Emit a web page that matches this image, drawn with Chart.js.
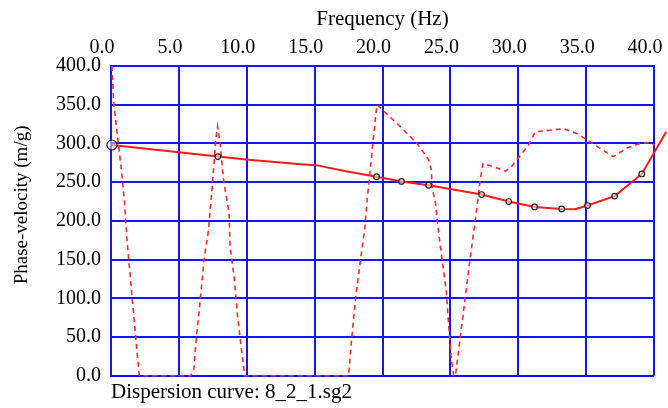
<!DOCTYPE html>
<html>
<head>
<meta charset="utf-8">
<script src="https://cdn.jsdelivr.net/npm/chart.js@4/dist/chart.umd.min.js"></script>
<style>
html,body{margin:0;padding:0;background:#fff;}
#wrap{width:668px;height:408px;position:relative;}
</style>
</head>
<body>
<div id="wrap"><canvas id="c" width="668" height="408"></canvas></div>
<script>
// Dashed curve (all picks)
const dashedFreq = [0.07,0.2,0.74,0.98,1.18,1.6,1.84,2.08,5.87,6.1,6.27,6.54,6.86,7.18,7.48,7.72,7.85,8.04,8.29,8.7,8.77,9.07,9.32,9.56,9.85,17.5,17.7,18.0,18.38,18.68,18.87,19.12,19.32,19.49,19.6,21.3,22.55,23.4,23.6,23.65,23.9,24.14,24.39,24.7,24.88,25.05,25.24,25.37,25.74,26.1,26.35,26.7,26.96,27.2,27.4,28.2,29.04,29.5,30.0,30.76,31.25,32.35,33.33,34.3,35.3,36.0,37.0,38.0,38.97,39.46,40.07,40.56,40.96];
const dashedVel  = [400,352,270,227,175,92,46,0,0,8,46,92,150,188,249,305,322,300,253,210,167,128,77,42,0,0,42,98,150,188,227,270,305,335,350,322,300,279,266,244,223,184,150,109,64,25,0,0,51,102,137,184,218,253,274,270,264,270,281,298,315,317,319,313,302,294,283,294,300,301,298,305,315];
// Solid dispersion curve
const curveFreq = [0.07,7.87,10.15,13.97,15.1,17.3,19.56,21.4,23.4,27.3,29.3,31.2,33.2,34.2,35.1,37.1,39.1,40.9];
const curveVel  = [298,283,279,273,272,264,257,251,246,234,225,218,215.5,215,219.8,232,260.6,315];
// Marked points
const markFreq = [0.07,7.87,19.56,21.4,23.4,27.3,29.3,31.2,33.2,35.1,37.1,39.1,40.9];
const markVel  = [298,283,257,251,246,234,225,218,215.5,219.8,232,260.6,315];
// Axis ticks
const xTicks = [0,5,10,15,20,25,30,35,40];
const yTicks = [0,50,100,150,200,250,300,350,400];
const yTitle = 'Phase-velocity (m/g)';

const toXY = (xs, ys) => xs.map((x, i) => ({x: x, y: ys[i]}));
const serif = "'Liberation Serif','Times New Roman',serif";
const blue = '#1414ff';

const yTitlePlugin = {
  id: 'yTitle',
  afterDraw(chart) {
    const ctx = chart.ctx;
    const a = chart.chartArea;
    ctx.save();
    ctx.font = '19px ' + serif;
    ctx.fillStyle = '#000';
    ctx.textAlign = 'center';
    ctx.textBaseline = 'middle';
    ctx.translate(22, (a.top + a.bottom) / 2 - 16);
    ctx.rotate(-Math.PI / 2);
    ctx.fillText(yTitle, 0, 0);
    ctx.restore();
  }
};

new Chart(document.getElementById('c'), {
  type: 'scatter',
  data: {
    datasets: [
      {
        data: toXY(markFreq, markVel),
        showLine: false,
        pointRadius: c => c.dataIndex === 0 ? 5 : 2.8,
        pointBorderColor: '#222',
        pointBackgroundColor: 'rgba(255,255,255,0.5)',
        pointBorderWidth: 1.2,
        clip: false
      },
      {
        data: toXY(curveFreq, curveVel),
        showLine: true,
        borderColor: '#ff1a1a',
        borderWidth: 2,
        pointRadius: 0,
        tension: 0,
        clip: false
      },
      {
        data: toXY(dashedFreq, dashedVel),
        showLine: true,
        borderColor: '#ff2a2a',
        borderWidth: 1.6,
        borderDash: [5, 4],
        pointRadius: 0,
        tension: 0,
        clip: false
      }
    ]
  },
  plugins: [yTitlePlugin],
  options: {
    responsive: false,
    animation: false,
    events: [],
    layout: { padding: { left: 0, right: 14, top: 0, bottom: 0 } },
    plugins: {
      legend: { display: false },
      tooltip: { enabled: false },
      title: {
        display: true,
        position: 'bottom',
        align: 'start',
        fullSize: false,
        text: 'Dispersion curve: 8_2_1.sg2',
        color: '#000',
        font: { family: serif, size: 21, weight: 'normal' },
        padding: { top: 4, bottom: 3 }
      }
    },
    scales: {
      x: {
        type: 'linear',
        position: 'top',
        min: 0, max: 40,
        afterBuildTicks: s => { s.ticks = xTicks.map(v => ({value: v})); },
        afterFit: s => { s.height = 66; s.paddingLeft = 0; s.paddingRight = 0; },
        ticks: {
          padding: 6,
          labelOffset: -9,
          color: '#000',
          font: { family: serif, size: 20 },
          maxRotation: 0,
          callback: v => Number(v).toFixed(1)
        },
        grid: { color: blue, lineWidth: 2, drawTicks: false },
        border: { color: blue, width: 2 },
        title: {
          display: true,
          text: 'Frequency (Hz)',
          color: '#000',
          font: { family: serif, size: 21 },
          padding: { top: 7, bottom: 0 }
        }
      },
      y: {
        type: 'linear',
        position: 'left',
        min: 0, max: 400,
        afterBuildTicks: s => { s.ticks = yTicks.map(v => ({value: v})); },
        afterFit: s => { s.width = 111; s.paddingTop = 0; s.paddingBottom = 0; },
        ticks: {
          padding: 10,
          color: '#000',
          font: { family: serif, size: 20 },
          callback: v => Number(v).toFixed(1)
        },
        grid: { color: blue, lineWidth: 2, drawTicks: false },
        border: { color: blue, width: 2 },
        title: { display: false }
      }
    }
  }
});
</script>
</body>
</html>
